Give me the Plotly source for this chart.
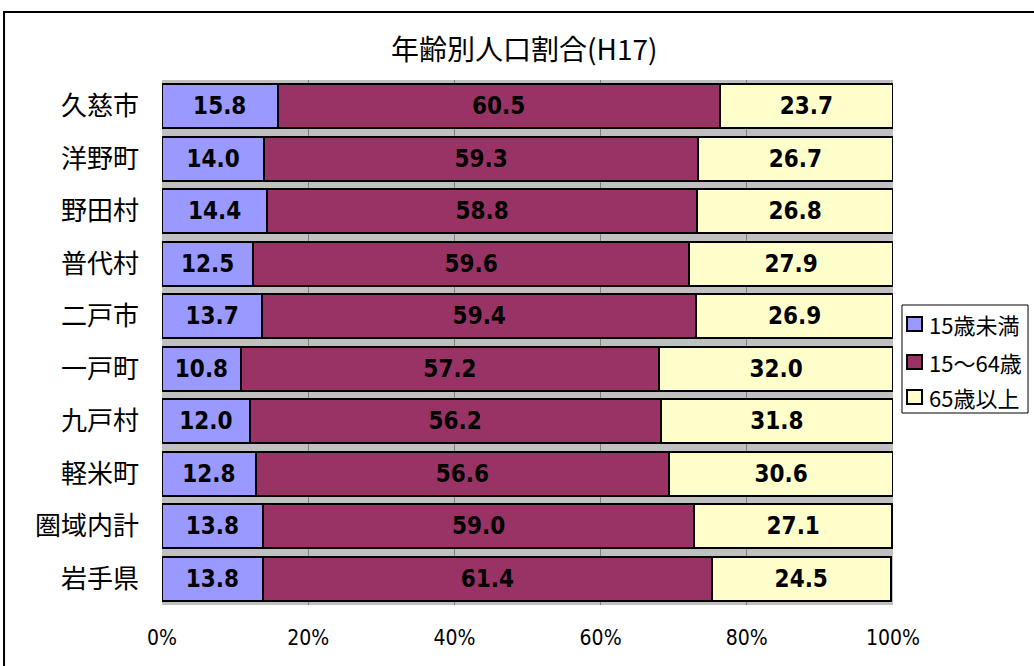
import plotly.graph_objects as go

categories = ["久慈市", "洋野町", "野田村", "普代村", "二戸市", "一戸町", "九戸村", "軽米町", "圏域内計", "岩手県"]
under15 = [15.8, 14.0, 14.4, 12.5, 13.7, 10.8, 12.0, 12.8, 13.8, 13.8]
age15_64 = [60.5, 59.3, 58.8, 59.6, 59.4, 57.2, 56.2, 56.6, 59.0, 61.4]
over65 = [23.7, 26.7, 26.8, 27.9, 26.9, 32.0, 31.8, 30.6, 27.1, 24.5]
series_names = ["15歳未満", "15～64歳", "65歳以上"]
colors = ["#9999FF", "#993366", "#FFFFCC"]
tick_vals = [0, 20, 40, 60, 80, 100]
tick_text = ["0%", "20%", "40%", "60%", "80%", "100%"]

NUM = "DejaVu Sans Condensed, Noto Sans"
CJK = "Noto Sans CJK JP"
fig = go.Figure()
for name, vals, col in zip(series_names, [under15, age15_64, over65], colors):
    fig.add_trace(go.Bar(
        y=categories, x=vals, name=name, orientation="h", showlegend=False,
        marker=dict(color=col, line=dict(color="black", width=2)),
        text=["<b>%.1f</b>" % v for v in vals],
        textposition="inside", insidetextanchor="middle",
        textfont=dict(family=NUM, size=24, color="black"),
        textangle=0,
    ))

# legend box drawn manually (paper coordinates)
shapes = [dict(type="rect", xref="paper", yref="paper",
               x0=-0.2161, x1=1.25, y0=-0.3, y1=1.1295,
               line=dict(color="black", width=2), fillcolor="rgba(0,0,0,0)", layer="below"),
          dict(type="rect", xref="paper", yref="paper",
               x0=1.0123, x1=1.1847, y0=0.3657, y1=0.5714,
               line=dict(color="black", width=1), fillcolor="white")]
annotations = []
item_y = [0.5352, 0.4629, 0.3962]
for name, col, yy in zip(series_names, colors, item_y):
    shapes.append(dict(type="rect", xref="paper", yref="paper",
                       x0=1.0192, x1=1.0397, y0=yy - 0.0135, y1=yy + 0.0135,
                       line=dict(color="black", width=2), fillcolor=col))
    annotations.append(dict(text=name, xref="paper", yref="paper", x=1.0465, y=yy,
                            xanchor="left", yanchor="middle", showarrow=False,
                            font=dict(family=CJK, size=22, color="black")))

fig.update_layout(
    width=1034, height=666,
    barmode="stack", bargap=0.16,
    paper_bgcolor="white", plot_bgcolor="#c0c0c0",
    margin=dict(l=162, r=141, t=80, b=61, autoexpand=False),
    title=dict(text="年齢別人口割合(H17)", x=0.507, xanchor="center", y=0.925, yanchor="middle",
               font=dict(family=CJK, size=28, color="black")),
    font=dict(family=CJK, color="black"),
    showlegend=False,
    xaxis=dict(range=[0, 100], tickvals=tick_vals, ticktext=tick_text,
               showgrid=True, gridcolor="#808080", gridwidth=1, zeroline=False,
               tickfont=dict(size=21, family=NUM), ticks="", ticklabelstandoff=18),
    yaxis=dict(autorange="reversed", tickfont=dict(size=26, family=CJK), ticks="",
               ticklabelstandoff=22),
    uniformtext=dict(minsize=10, mode="show"),
    shapes=shapes,
    annotations=annotations,
)

fig.write_html("out.html", config={"displayModeBar": False},
               post_script="document.body.style.margin='0px';")
